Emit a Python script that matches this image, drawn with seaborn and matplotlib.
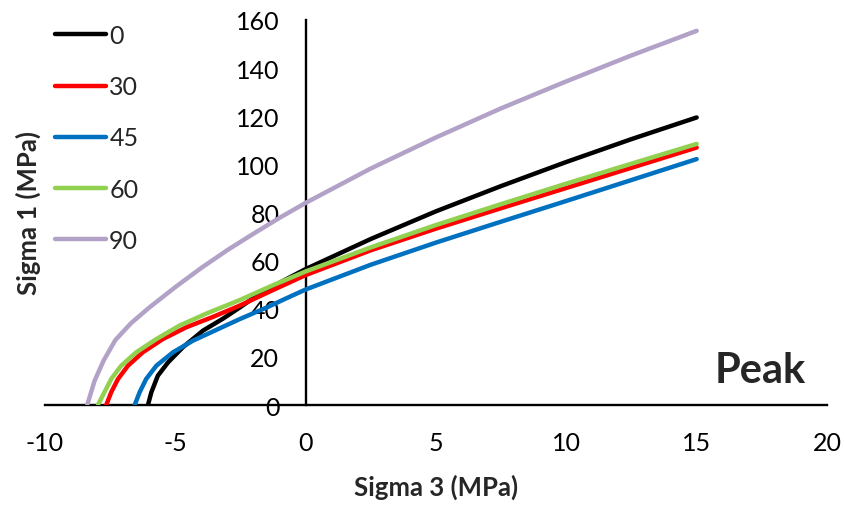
import numpy as np
import pandas as pd
import matplotlib
matplotlib.use("Agg")
import matplotlib.pyplot as plt
import seaborn as sns

# ---- data ----
labels = ["0", "30", "45", "60", "90"]

x_0 = [-6.05, -5.92, -5.67, -5.28, -4.71, -3.94, -3.17, -2.53, -2.0, -1.0, 0.0,
       2.5, 5.0, 7.5, 10.0, 12.5, 15.0]
y_0 = [0.0, 5.3, 12.2, 17.7, 24.0, 30.9, 35.9, 40.5, 44.5, 50.8, 56.5,
       69.0, 80.5, 91.0, 101.0, 110.5, 119.5]

x_30 = [-7.65, -7.46, -7.2, -6.82, -6.25, -5.48, -4.58, -3.56, -2.53, -1.25, 0.0,
        2.5, 5.0, 7.5, 10.0, 12.5, 15.0]
y_30 = [0.0, 5.3, 10.8, 16.3, 21.9, 27.4, 32.3, 36.6, 41.3, 47.8, 54.0,
        64.3, 73.3, 81.8, 90.2, 98.6, 107.0]

x_45 = [-6.56, -6.37, -6.12, -5.73, -5.09, -4.33, -3.43, -2.53, -1.5, -0.75, 0.0,
        2.5, 5.0, 7.5, 10.0, 12.5, 15.0]
y_45 = [0.0, 5.3, 10.8, 16.3, 21.9, 26.7, 31.2, 35.7, 40.5, 44.3, 48.0,
        58.3, 67.5, 76.2, 84.8, 93.5, 102.2]

x_60 = [-7.97, -7.72, -7.46, -7.08, -6.5, -5.73, -4.84, -3.81, -2.53, -1.25, 0.0,
        2.5, 5.0, 7.5, 10.0, 12.5, 15.0]
y_60 = [0.0, 5.3, 10.8, 16.3, 21.9, 27.4, 33.0, 38.0, 43.6, 49.8, 55.5,
        65.5, 74.8, 83.5, 92.0, 100.3, 108.5]

x_90 = [-8.38, -8.1, -7.75, -7.3, -6.7, -6.0, -5.0, -4.0, -3.0, -2.0, -1.0, 0.0,
        2.5, 5.0, 7.5, 10.0, 12.5, 15.0]
y_90 = [0.0, 10.0, 18.5, 27.0, 34.0, 40.5, 49.0, 57.0, 64.4, 71.2, 77.8, 84.0,
        98.3, 111.2, 123.3, 134.5, 145.3, 155.5]

colors = ["#000000", "#FF0000", "#0070C0", "#92D050", "#B3A2C7"]

x_ticks = [-10, -5, 0, 5, 10, 15, 20]
y_ticks = [0, 20, 40, 60, 80, 100, 120, 140, 160]

# ---- long-form table ----
series_x = [x_0, x_30, x_45, x_60, x_90]
series_y = [y_0, y_30, y_45, y_60, y_90]
frames = []
for lab, xs, ys in zip(labels, series_x, series_y):
    frames.append(pd.DataFrame({"sigma3": xs, "sigma1": ys, "angle": lab}))
df = pd.concat(frames, ignore_index=True)

sns.set_style("white")
plt.rcParams["font.family"] = ["Lato", "DejaVu Sans"]

fig = plt.figure(figsize=(8.45, 5.06), dpi=100)
ax = fig.add_axes([45 / 845, 1 - 406 / 506, (827 - 45) / 845, (406 - 21) / 506])

palette = dict(zip(labels, colors))
sns.lineplot(data=df, x="sigma3", y="sigma1", hue="angle", hue_order=labels,
             palette=palette, sort=False, estimator=None, linewidth=3.2,
             ax=ax, legend=False)
for ln in ax.get_lines():
    ln.set_solid_capstyle("round")
    ln.set_solid_joinstyle("round")

ax.set_xlim(-10, 20)
ax.set_ylim(0, 160)
ax.set_xticks(x_ticks)
ax.set_yticks(y_ticks)
ax.set_xticklabels([str(t) for t in x_ticks])
ax.set_yticklabels([str(t) for t in y_ticks])

ax.spines["left"].set_position(("data", 0))
ax.spines["bottom"].set_position(("data", 0))
ax.spines["top"].set_visible(False)
ax.spines["right"].set_visible(False)
for sp in ("left", "bottom"):
    ax.spines[sp].set_color("black")
    ax.spines[sp].set_linewidth(1.7)
    ax.spines[sp].set_zorder(1)

ax.tick_params(axis="both", which="major", direction="out", length=6, width=1.7,
               color="black", labelsize=18, labelcolor="black")
ax.tick_params(axis="x", pad=13)
ax.tick_params(axis="y", pad=13)

ax.set_xlabel("Sigma 3 (MPa)", fontsize=18.5, fontweight="bold", labelpad=14)
ax.set_ylabel("")
fig.text(28 / 845, 1 - 213 / 506, "Sigma 1 (MPa)", rotation=90, fontsize=18.5,
         fontweight="bold", ha="center", va="center")

ax.text(17.43, 14.5, "Peak", fontsize=30, fontweight="bold", ha="center", va="center")

handles = [plt.Line2D([0], [0], color=c, lw=3.2, solid_capstyle="round") for c in colors]
leg = fig.legend(handles, labels, loc="upper left",
                 bbox_to_anchor=(55 / 845, 1 - 25 / 506), frameon=False,
                 fontsize=18, handlelength=2.05, handletextpad=0.12,
                 labelspacing=1.13, borderpad=0, borderaxespad=0)

fig.savefig("out.png", dpi=100)
